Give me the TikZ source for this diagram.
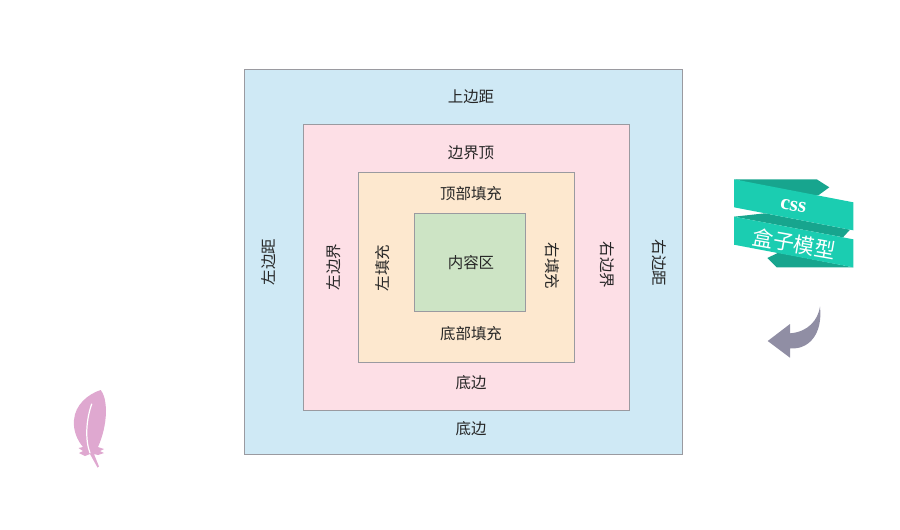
\documentclass[tikz,border=0pt]{standalone}
\usepackage{fontspec}
\setmainfont{Noto Sans CJK SC}
\newfontfamily\ribbonfont{Liberation Serif}
\usepackage{xcolor}
\definecolor{marginblue}{HTML}{CFE9F5}
\definecolor{borderpink}{HTML}{FDDFE6}
\definecolor{paddingcream}{HTML}{FDE8CF}
\definecolor{contentgreen}{HTML}{CDE4C5}
\definecolor{edgegrey}{HTML}{9A9AA0}
\definecolor{ribbongreen}{HTML}{1BCDB1}
\definecolor{ribbondark}{HTML}{17A58E}
\definecolor{arrowgrey}{HTML}{908EA4}
\definecolor{featherpink}{HTML}{DFA8D0}
\tikzset{
  layerbox/.style={draw=edgegrey, line width=0.75pt, inner sep=0pt, outer sep=0pt},
  boxlabel/.style={font=\fontsize{11.6pt}{13pt}\selectfont, text=black!85, inner sep=0pt},
}

\begin{document}
\begin{tikzpicture}[x=0.75pt, y=-0.75pt]
        \useasboundingbox (0,0) rectangle (900,529);

        % The four nested boxes
        \node[layerbox, fill=marginblue, minimum width=328.5pt, minimum height=288.75pt] (margin) at (463.5,262) {};
        \node[layerbox, fill=borderpink, minimum width=244.5pt, minimum height=214.5pt] (border) at (466.5,267) {};
        \node[layerbox, fill=paddingcream, minimum width=161.6pt, minimum height=142.1pt] (padding) at (466.5,267.5) {};
        \node[layerbox, fill=contentgreen, minimum width=83.25pt, minimum height=73.5pt] (content) at (470,262) {};

        % Labels of each box
        \node[boxlabel] (margintop) at (471,97) {上边距};
        \node[boxlabel] (bordertop) at (471,153) {边界顶};
        \node[boxlabel] (paddingtop) at (471,194) {顶部填充};
        \node[boxlabel] (contentlabel) at (471,263) {内容区};
        \node[boxlabel] (paddingbottom) at (471,334) {底部填充};
        \node[boxlabel] (borderbottom) at (471,383) {底边};
        \node[boxlabel] (marginbottom) at (471,429) {底边};
        \node[boxlabel, rotate=90] (marginleft) at (269,262) {左边距};
        \node[boxlabel, rotate=90] (borderleft) at (334,267) {左边界};
        \node[boxlabel, rotate=90] (paddingleft) at (383,268) {左填充};
        \node[boxlabel, rotate=-90] (paddingright) at (552,266) {右填充};
        \node[boxlabel, rotate=-90] (borderright) at (607,265) {右边界};
        \node[boxlabel, rotate=-90] (marginright) at (659,263) {右边距};

        % Ribbon
        \fill[ribbondark] (734,179.3) -- (816.7,179.3) -- (829.3,187.3) -- (818.3,195.3) -- (800,195) -- cycle;
        \fill[ribbondark] (734,216.7) -- (765,213.3) -- (850,229.7) -- (843,237.3) -- cycle;
        \fill[ribbondark] (767.3,258) -- (778.3,252.7) -- (853.3,267.3) -- (776.7,267.3) -- cycle;
        \fill[ribbongreen] (734,179.3) -- (853.3,202.3) -- (853.3,230.3) -- (734,207.3) -- cycle;
        \fill[ribbongreen] (734,216.7) -- (853.3,239.3) -- (853.3,267.3) -- (734,244.7) -- cycle;
        \node[white, rotate=-10, inner sep=0pt, font=\ribbonfont\bfseries\fontsize{16pt}{18pt}\selectfont] (ribbontop) at (793.3,206) {css};
        \node[white, rotate=-10, inner sep=0pt, font=\fontsize{15.7pt}{17pt}\selectfont] (ribbonbottom) at (794,243.5) {盒子模型};

        % Curved arrow
        \fill[arrowgrey] (767.7,341) -- (790,324) -- (790,333.3)
            .. controls (808,332) and (818,320) .. (820,306.7)
            .. controls (823,335) and (808,350) .. (790,348.3)
            -- (790,357.7) -- cycle;

        % Feather
        \fill[featherpink] (100.7,390) .. controls (104,394) and (105.5,400) .. (106,410)
            .. controls (106,425) and (102,438) .. (98,447)
            -- (104,449) -- (100,451) -- (104,453) -- (98,455) -- (94,454)
            -- (99,466.5) -- (97.5,467.5) -- (90,454)
            -- (85,456) -- (79,453) -- (83,451) -- (78.5,448) -- (83,447)
            .. controls (77,440) and (73,430) .. (74,420)
            .. controls (75,405) and (88,394) .. (100.7,390) -- cycle;
        \draw[white, line width=0.9pt, line cap=round] (91.7,404) .. controls (86,420) and (85,440) .. (90,453);
\end{tikzpicture}
\end{document}
